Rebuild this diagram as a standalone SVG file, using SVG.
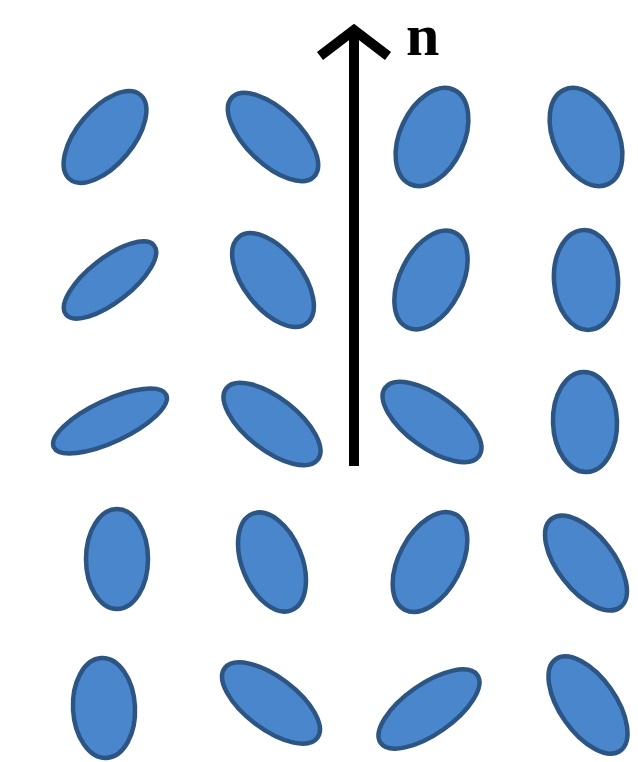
<svg xmlns="http://www.w3.org/2000/svg" width="638" height="762" viewBox="0 0 638 762">
<style>
.m{fill:#4a86cb;stroke:#2c5584;stroke-width:4.5}
.ax{stroke:#000;stroke-width:10;fill:none}
.lbl{font-family:"Liberation Serif",serif;font-weight:bold;font-size:60px;fill:#000}
</style>
<rect width="638" height="762" fill="#fff"/>
<g id="molecules">
<g id="m11"><ellipse class="m" cx="105" cy="137" rx="55" ry="28" transform="rotate(-50 105 137)"/></g>
<g id="m12"><ellipse class="m" cx="273" cy="137" rx="57" ry="27" transform="rotate(44 273 137)"/></g>
<g id="m13"><ellipse class="m" cx="432" cy="137" rx="52" ry="32" transform="rotate(-65 432 137)"/></g>
<g id="m14"><ellipse class="m" cx="586" cy="137" rx="52" ry="32" transform="rotate(65 586 137)"/></g>
<g id="m21"><ellipse class="m" cx="110" cy="280" rx="56" ry="22" transform="rotate(-38 110 280)"/></g>
<g id="m22"><ellipse class="m" cx="273" cy="280" rx="55" ry="29" transform="rotate(52 273 280)"/></g>
<g id="m23"><ellipse class="m" cx="431" cy="280" rx="53" ry="31" transform="rotate(-63 431 280)"/></g>
<g id="m24"><ellipse class="m" cx="586" cy="280" rx="50" ry="32" transform="rotate(86 586 280)"/></g>
<g id="m31"><ellipse class="m" cx="110" cy="421" rx="62" ry="21" transform="rotate(-25 110 421)"/></g>
<g id="m32"><ellipse class="m" cx="272" cy="424" rx="58" ry="26" transform="rotate(38 272 424)"/></g>
<g id="m33"><ellipse class="m" cx="432" cy="422" rx="58" ry="26" transform="rotate(36 432 422)"/></g>
<g id="m34"><ellipse class="m" cx="585" cy="422" rx="50" ry="32" transform="rotate(88 585 422)"/></g>
<g id="m41"><ellipse class="m" cx="117" cy="559" rx="50" ry="31" transform="rotate(90 117 559)"/></g>
<g id="m42"><ellipse class="m" cx="272" cy="562" rx="52" ry="30" transform="rotate(68 272 562)"/></g>
<g id="m43"><ellipse class="m" cx="430" cy="562" rx="54" ry="31" transform="rotate(-62 430 562)"/></g>
<g id="m44"><ellipse class="m" cx="586" cy="563" rx="56" ry="28" transform="rotate(52 586 563)"/></g>
<g id="m51"><ellipse class="m" cx="104" cy="708" rx="50" ry="31" transform="rotate(87 104 708)"/></g>
<g id="m52"><ellipse class="m" cx="271" cy="703" rx="58" ry="26" transform="rotate(37 271 703)"/></g>
<g id="m53"><ellipse class="m" cx="429" cy="709" rx="59" ry="25" transform="rotate(-35 429 709)"/></g>
<g id="m54"><ellipse class="m" cx="588" cy="705" rx="56" ry="28" transform="rotate(55 588 705)"/></g>
</g>
<g id="connectors">
<line class="ax" x1="354" y1="466" x2="354" y2="34"/>
<polyline class="ax" points="320,56 354,30 388,56" stroke-linejoin="miter"/>
</g>
<g id="label-n"><text class="lbl" x="406" y="55">n</text></g>
</svg>
